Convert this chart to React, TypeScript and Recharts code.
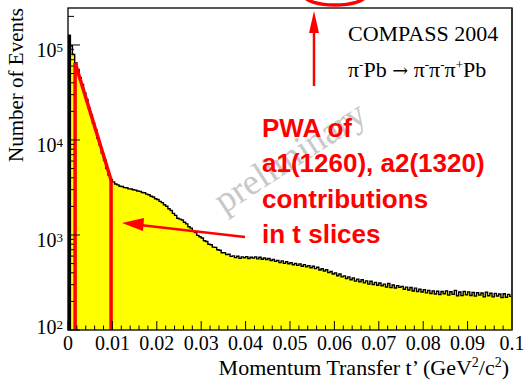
import { AreaChart, Area, XAxis, YAxis, ReferenceLine, ReferenceArea } from "recharts"

// histogram of t' in bins of 0.0005 (GeV/c)^2
const binWidth = 0.0005
const counts = [
  127000, 98000, 79500, 65200, 55300, 45200, 38400, 31400, 26700, 21800,
  18500, 15000, 12800, 10400, 8850, 7250, 6150, 5000, 4280, 3820,
  3620, 3440, 3370, 3260, 3240, 3150, 3140, 3060, 3050, 2990,
  2970, 2900, 2880, 2800, 2780, 2690, 2650, 2560, 2510, 2410,
  2360, 2260, 2190, 2080, 2010, 1890, 1810, 1690, 1610, 1500,
  1470, 1440, 1360, 1310, 1220, 1180, 1100, 1060, 990, 960,
  930, 870, 855, 800, 790, 745, 740, 700, 690, 650,
  650, 622, 628, 596, 603, 578, 598, 568, 588, 577,
  592, 566, 583, 571, 589, 560, 583, 556, 572, 553,
  566, 538, 552, 527, 541, 512, 534, 503, 522, 498,
  512, 487, 501, 479, 497, 468, 488, 463, 476, 452,
  468, 443, 458, 428, 441, 418, 431, 402, 413, 388,
  398, 372, 388, 362, 371, 349, 362, 338, 352, 327,
  343, 322, 338, 313, 329, 304, 326, 301, 317, 296,
  312, 292, 304, 284, 309, 279, 298, 277, 293, 281,
  288, 268, 283, 264, 280, 257, 276, 254, 268, 251,
  266, 246, 261, 242, 258, 239, 256, 236, 254, 241,
  257, 233, 253, 237, 261, 229, 251, 230, 255, 235,
  252, 231, 249, 227, 247, 233, 245, 223, 250, 229,
  244, 223, 243, 228, 239, 219, 241, 221, 237, 226,
]

const xMajorTicks = [0, 0.01, 0.02, 0.03, 0.04, 0.05, 0.06, 0.07, 0.08, 0.09, 0.1]
const xTickLabels = ["0", "0.01", "0.02", "0.03", "0.04", "0.05", "0.06", "0.07", "0.08", "0.09", "0.1"]
const yMajorTicks = [100, 1000, 10000, 100000]
const yTickExponents = ["2", "3", "4", "5"]

// t slices marked in red
const sliceEdges = [0.0016, 0.0097]
const sliceTops = [65000, 3800]

const data = counts.map((n, i) => ({ t: i * binWidth, n }))
data.push({ t: 0.1, n: counts[counts.length - 1] })

const xTicks: number[] = []
for (let i = 0; i <= 50; i++) xTicks.push(Number((i * 0.002).toFixed(3)))
const yTicks: number[] = []
for (const d of [100, 1000, 10000, 100000]) {
  for (let k = 1; k <= 9; k++) if (d * k <= 245000) yTicks.push(d * k)
}

const W = 526
const H = 382
const PLOT_LEFT = 68
const PLOT_RIGHT = 512
const PLOT_TOP = 8
const PLOT_BOTTOM = 330
const serif = "'Liberation Serif', 'Times New Roman', serif"
const sans = "'Liberation Sans', Arial, sans-serif"
const RED = "#ff0000"

function YTick(props: any) {
  const { y, payload } = props
  const idx = yMajorTicks.indexOf(payload.value)
  const len = idx >= 0 ? 12 : 6
  return (
    <g>
      <line x1={PLOT_LEFT} x2={PLOT_LEFT + len} y1={y} y2={y} stroke="#000" strokeWidth={1} />
      {idx >= 0 && (
        <text x={63} y={y + (idx === 0 ? 4 : 12)} textAnchor="end" fontFamily={serif} fontSize={20} fill="#000">
          10<tspan dy={-5} fontSize={13}>{yTickExponents[idx]}</tspan>
        </text>
      )}
    </g>
  )
}

function XTick(props: any) {
  const { x, payload } = props
  const idx = xMajorTicks.findIndex((v) => Math.abs(v - payload.value) < 1e-6)
  const len = idx >= 0 ? 9 : 4.5
  return (
    <g>
      <line x1={x} x2={x} y1={PLOT_BOTTOM} y2={PLOT_BOTTOM - len} stroke="#000" strokeWidth={1} />
      {idx >= 0 && (
        <text x={x} y={350} textAnchor="middle" fontFamily={serif} fontSize={20} fill="#000">
          {xTickLabels[idx]}
        </text>
      )}
    </g>
  )
}

function Overlay() {
  return (
    <svg width={W} height={H} style={{ position: "absolute", left: 0, top: 0, pointerEvents: "none" }}>
      <rect x={PLOT_LEFT} y={PLOT_TOP} width={PLOT_RIGHT - PLOT_LEFT} height={PLOT_BOTTOM - PLOT_TOP} fill="none" stroke="#000" strokeWidth={1.3} />
      <line x1={PLOT_RIGHT} x2={PLOT_RIGHT} y1={PLOT_TOP} y2={PLOT_BOTTOM} stroke="#333" strokeWidth={2} />

      <text transform="translate(23,8) rotate(-90)" textAnchor="end" fontFamily={serif} fontSize={21} fill="#000">
        Number of Events
      </text>
      <text x={509} y={375} textAnchor="end" fontFamily={serif} fontSize={22} fill="#000">
        Momentum Transfer t’ (GeV<tspan dy={-8} fontSize={14}>2</tspan>
        <tspan dy={8}>/c</tspan>
        <tspan dy={-8} fontSize={14}>2</tspan>
        <tspan dy={8}>)</tspan>
      </text>

      <text x={348} y={41} fontFamily={serif} fontSize={22} fill="#000">COMPASS 2004</text>
      <text x={348} y={77} fontFamily={serif} fontSize={22} fill="#000">
        π<tspan dy={-8} fontSize={13}>-</tspan>
        <tspan dy={8}>Pb </tspan>
        <tspan fontFamily="'DejaVu Serif', serif" fontSize={19}>→</tspan>
        <tspan> π</tspan>
        <tspan dy={-8} fontSize={13}>-</tspan>
        <tspan dy={8}>π</tspan>
        <tspan dy={-8} fontSize={13}>-</tspan>
        <tspan dy={8}>π</tspan>
        <tspan dy={-8} fontSize={13}>+</tspan>
        <tspan dy={8}>Pb</tspan>
      </text>

      <text transform="translate(224,214) rotate(-33)" fontFamily={serif} fontSize={37} fill="#c8c8c8">
        preliminary
      </text>

      <g fontFamily={sans} fontWeight="bold" fontSize={26} fill={RED}>
        <text x={262} y={137}>PWA of</text>
        <text x={262} y={172}>a1(1260), a2(1320)</text>
        <text x={262} y={208}>contributions</text>
        <text x={262} y={243}>in t slices</text>
      </g>

      <line x1={245} y1={237} x2={140} y2={225} stroke={RED} strokeWidth={2.5} />
      <polygon points="122,223 144,218 143,231" fill={RED} />

      <line x1={314} y1={86} x2={314} y2={30} stroke={RED} strokeWidth={2.5} />
      <polygon points="314,11 309,33 319,33" fill={RED} />

      <ellipse cx={335} cy={-4} rx={30} ry={9} fill="none" stroke={RED} strokeWidth={3.5} />
    </svg>
  )
}

export default function App() {
  return (
    <div style={{ position: "absolute", left: 0, top: 0, width: W, height: H, background: "#fff" }}>
      <AreaChart width={W} height={H} data={data} margin={{ top: PLOT_TOP, right: W - PLOT_RIGHT, bottom: 22, left: 8 }}>
        <Area
          type="stepAfter"
          dataKey="n"
          baseValue={100}
          fill="#ffff00"
          fillOpacity={1}
          stroke="#000"
          strokeWidth={1.4}
          dot={false}
          activeDot={false}
          isAnimationActive={false}
        />
        <ReferenceArea x1={0} x2={binWidth * 1.4} y1={100} y2={counts[0]} fill="#000" fillOpacity={1} stroke="none" ifOverflow="visible" />
        <ReferenceLine segment={[{ x: sliceEdges[0], y: 100 }, { x: sliceEdges[0], y: sliceTops[0] }]} stroke={RED} strokeWidth={3.5} ifOverflow="visible" />
        <ReferenceLine segment={[{ x: sliceEdges[1], y: 100 }, { x: sliceEdges[1], y: sliceTops[1] }]} stroke={RED} strokeWidth={3.5} ifOverflow="visible" />
        <ReferenceLine segment={[{ x: sliceEdges[0], y: sliceTops[0] }, { x: sliceEdges[1], y: sliceTops[1] }]} stroke={RED} strokeWidth={3.5} ifOverflow="visible" />
        <XAxis
          dataKey="t"
          type="number"
          domain={[0, 0.1]}
          ticks={xTicks}
          interval={0}
          height={30}
          axisLine={false}
          tickLine={false}
          tick={<XTick />}
        />
        <YAxis
          type="number"
          scale="log"
          domain={[100, 245000]}
          allowDataOverflow
          ticks={yTicks}
          interval={0}
          width={60}
          axisLine={false}
          tickLine={false}
          tick={<YTick />}
        />
      </AreaChart>
      <Overlay />
    </div>
  )
}
